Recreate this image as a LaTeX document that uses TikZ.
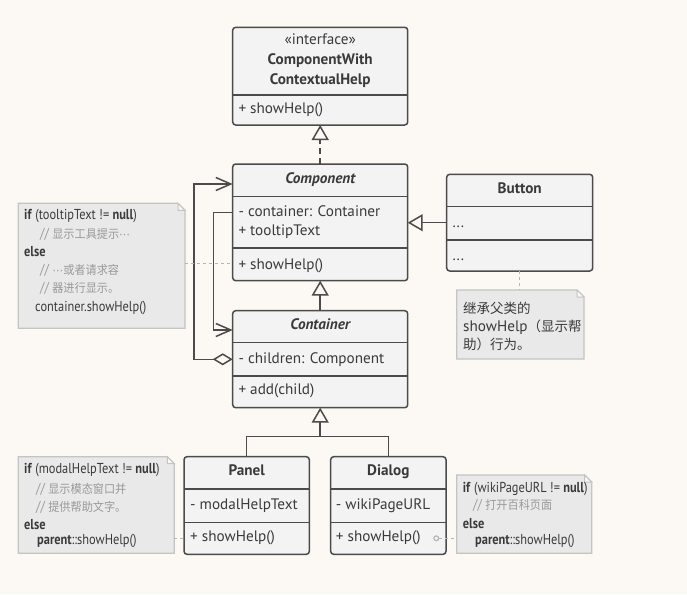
\documentclass[tikz,border=0pt]{standalone}
\usepackage{fontspec}
\setmainfont{PT Sans}
\newfontfamily\cjk{Noto Sans CJK SC}
\newfontfamily\cjkn[FakeStretch=0.93]{Noto Sans CJK SC}
\newfontfamily\dejavu{DejaVu Sans}
\newfontfamily\narrow[FakeStretch=0.86]{PT Sans}
\usetikzlibrary{arrows.meta}
\definecolor{bg}{HTML}{FCF8F3}
\definecolor{boxfill}{HTML}{F3F3F3}
\definecolor{edge}{HTML}{4B4B4B}
\definecolor{txt}{HTML}{3A3A3A}
\definecolor{notefill}{HTML}{E9E9E9}
\definecolor{noteedge}{HTML}{C4C4C4}
\definecolor{cmt}{HTML}{9A9A9A}
\definecolor{dotc}{HTML}{B5B5B5}
\newcommand\drawnote[1]{%
  \draw[draw=noteedge, fill=notefill, line width=1.2pt] (#1.north west) -- ([xshift=-7pt]#1.north east) -- ([yshift=-7pt]#1.north east) -- (#1.south east) -- (#1.south west) -- cycle;
  \draw[draw=noteedge, fill=white!70!notefill, line width=1pt] ([xshift=-7pt]#1.north east) -- ([xshift=-7pt,yshift=-7pt]#1.north east) -- ([yshift=-7pt]#1.north east) -- cycle;}
\newcommand\cj[1]{{\cjkn\fontsize{12}{15}\selectfont #1}}
\newcommand\mdots{{\dejavu\fontsize{11}{14}\selectfont ⋯}}
\tikzset{
  classbox/.style={draw=edge, fill=boxfill, line width=1.5pt, rounded corners=3pt, inner sep=0pt, outer sep=0pt, anchor=north west},
  divider/.style={draw=edge, line width=1.5pt},
  ctext/.style={anchor=west, inner sep=0pt, text=txt, font=\fontsize{15.2}{18}\selectfont, text height=1.5ex, text depth=.25ex},
  ctitle/.style={ctext, anchor=center, font=\fontsize{15.2}{18}\selectfont\bfseries},
  notebox/.style={inner sep=0pt, outer sep=0pt, anchor=north west},
  ntext/.style={anchor=west, inner sep=0pt, text=txt, font=\narrow\fontsize{14.4}{17}\selectfont, text height=1.5ex, text depth=.25ex},
  ncmt/.style={ntext, text=cmt},
  btext/.style={anchor=west, inner sep=0pt, text=txt, font=\fontsize{15.2}{18}\selectfont, text height=1.5ex, text depth=.25ex},
  conn/.style={draw=edge, line width=1.5pt},
  inherit/.style={conn, -{Triangle[open, length=15pt, width=17pt]}},
  dotline/.style={draw=dotc, line width=1.2pt, dash pattern=on 3pt off 3pt}
}
\begin{document}
\begin{tikzpicture}[x=1pt,y=-1pt]
\fill[bg] (0,0) rectangle (687,594);
\useasboundingbox (0,0) rectangle (687,594);

% ---------- classes ----------
\node[classbox, minimum width=175pt, minimum height=97.7pt] (iface) at (232.7,27.3) {};
\draw[divider] (iface.west |- 0,95) -- (iface.east |- 0,95);
\node[ctext, anchor=center] (ifst) at (320.2,41.7) {«interface»};
\node[ctitle] (ift1) at (320.2,61.7) {ComponentWith};
\node[ctitle] (ift2) at (320.2,81) {ContextualHelp};
\node[ctext] (ifm) at (238.3,110.7) {+ showHelp()};

\node[classbox, minimum width=175pt, minimum height=116.7pt] (comp) at (232.7,164) {};
\draw[divider] (comp.west |- 0,196.7) -- (comp.east |- 0,196.7);
\draw[divider] (comp.west |- 0,248) -- (comp.east |- 0,248);
\node[ctitle, font=\fontsize{15.2}{18}\selectfont\bfseries\itshape] (compt) at (320.2,180.7) {Component};
\node[ctext] (compa1) at (238.3,213) {- container: Container};
\node[ctext] (compa2) at (238.3,232.7) {+ tooltipText};
\node[ctext] (compm) at (238.3,266) {+ showHelp()};

\node[classbox, minimum width=175pt, minimum height=97pt] (cont) at (232.7,310.7) {};
\draw[divider] (cont.west |- 0,342.7) -- (cont.east |- 0,342.7);
\draw[divider] (cont.west |- 0,376) -- (cont.east |- 0,376);
\node[ctitle, font=\fontsize{15.2}{18}\selectfont\bfseries\itshape] (contt) at (320.2,326.7) {Container};
\node[ctext] (conta) at (238.3,360) {- children: Component};
\node[ctext] (contm) at (238.3,391.7) {+ add(child)};

\node[classbox, minimum width=146pt, minimum height=96.7pt] (button) at (446.7,174.3) {};
\draw[divider] (button.west |- 0,206.7) -- (button.east |- 0,206.7);
\draw[divider] (button.west |- 0,240) -- (button.east |- 0,240);
\node[ctitle] (buttont) at (519.7,190.7) {Button};
\node[ctext] (buttona) at (452.3,224.7) {...};
\node[ctext] (buttonm) at (452.3,257) {...};

\node[classbox, minimum width=125.3pt, minimum height=97.6pt] (panel) at (184,456.7) {};
\draw[divider] (panel.west |- 0,489) -- (panel.east |- 0,489);
\draw[divider] (panel.west |- 0,522.3) -- (panel.east |- 0,522.3);
\node[ctitle] (panelt) at (246.7,472.7) {Panel};
\node[ctext] (panela) at (190,506.7) {- modalHelpText};
\node[ctext] (panelm) at (190,538.3) {+ showHelp()};

\node[classbox, minimum width=115.3pt, minimum height=97.6pt] (dialog) at (330.7,456.7) {};
\draw[divider] (dialog.west |- 0,489) -- (dialog.east |- 0,489);
\draw[divider] (dialog.west |- 0,522.3) -- (dialog.east |- 0,522.3);
\node[ctitle] (dialogt) at (388.3,472.7) {Dialog};
\node[ctext] (dialoga) at (335.7,506.7) {- wikiPageURL};
\node[ctext] (dialogm) at (335.7,538.3) {+ showHelp()};

% ---------- notes ----------
\node[notebox, minimum width=166.7pt, minimum height=125pt] (tipnote) at (18.3,203.3) {};
\drawnote{tipnote}
\node[ntext] (tn1) at (24,216) {\textbf{if} (tooltipText != \textbf{null})};
\node[ncmt] (tn2) at (40,235) {// \cj{显示工具提示}\mdots};
\node[ntext] (tn3) at (24,253.3) {\textbf{else}};
\node[ncmt] (tn4) at (40,271.7) {// \mdots\cj{或者请求容}};
\node[ncmt] (tn5) at (40,289.3) {// \cj{器进行显示。}};
\node[ntext] (tn6) at (35,308.3) {container.showHelp()};

\node[notebox, minimum width=127.3pt, minimum height=69pt] (btnnote) at (456.7,290) {};
\drawnote{btnnote}
\node[btext] (bn1) at (463,310) {\cjk\fontsize{13.5}{16}\selectfont 继承父类的};
\node[btext] (bn2) at (463,328) {showHelp{\cjk\fontsize{13.5}{16}\selectfont （显示帮}};
\node[btext] (bn3) at (463,346.7) {\cjk\fontsize{13.5}{16}\selectfont 助）行为。};

\node[notebox, minimum width=156pt, minimum height=96.6pt] (panelnote) at (18.3,456.7) {};
\drawnote{panelnote}
\node[ntext] (pn1) at (24,470.7) {\textbf{if} (modalHelpText != \textbf{null})};
\node[ncmt] (pn2) at (36,490) {// \cj{显示模态窗口并}};
\node[ncmt] (pn3) at (36,508) {// \cj{提供帮助文字。}};
\node[ntext] (pn4) at (24,526) {\textbf{else}};
\node[ntext] (pn5) at (37,541.7) {\textbf{parent}::showHelp()};

\node[notebox, minimum width=135pt, minimum height=78.3pt] (dlgnote) at (456.7,475) {};
\drawnote{dlgnote}
\node[ntext] (dn1) at (462.7,489.3) {\textbf{if} (wikiPageURL != \textbf{null})};
\node[ncmt] (dn2) at (473,506.7) {// \cj{打开百科页面}};
\node[ntext] (dn3) at (462.7,525) {\textbf{else}};
\node[ntext] (dn4) at (475,541.7) {\textbf{parent}::showHelp()};

% ---------- connectors ----------
\draw[conn, dash pattern=on 6pt off 4pt, -{Triangle[open, length=15pt, width=17pt]}] (comp.north) -- (iface.south);
\draw[inherit] (cont.north) -- (comp.south);
\coordinate (btnjoin) at (446.7,222.7);
\draw[inherit] (btnjoin) -- (comp.east |- btnjoin);
\coordinate (join) at (320.2,436.7);
\draw[conn] (panel.north) |- (join) -| (dialog.north);
\draw[inherit] (join) -- (cont.south);

% aggregation
\coordinate (aggstart) at (232.7,359.3);
\coordinate (agg1) at (194,359.3);
\coordinate (agg2) at (194,184);
\draw[conn, {Diamond[open, length=20pt, width=12pt]}-{Straight Barb[length=15pt, width=13pt]}] (aggstart) -- (agg1) -- (agg2) -- (comp.west |- agg2);
% association
\coordinate (ass0) at (232.7,212.7);
\coordinate (ass1) at (213.3,212.7);
\coordinate (ass2) at (213.3,330);
\draw[conn, -{Straight Barb[length=15pt, width=13pt]}] (ass0) -- (ass1) -- (ass2) -- (cont.west |- ass2);

% note links
\coordinate (tiplink) at (185,263.3);
\draw[dotline] (tiplink) -- (comp.west |- tiplink);
\draw[dotline] (button.south) -- (button.south |- btnnote.north);
\coordinate (panellink) at (174.3,538.3);
\draw[dotline] (panellink) -- (panel.west |- panellink);
\coordinate (dlgcirc) at (433.3,538.3);
\draw[dotline, {Circle[open, length=6pt, width=6pt]}-] (dlgcirc) -- (dlgnote.west |- dlgcirc);
\end{tikzpicture}
\end{document}
